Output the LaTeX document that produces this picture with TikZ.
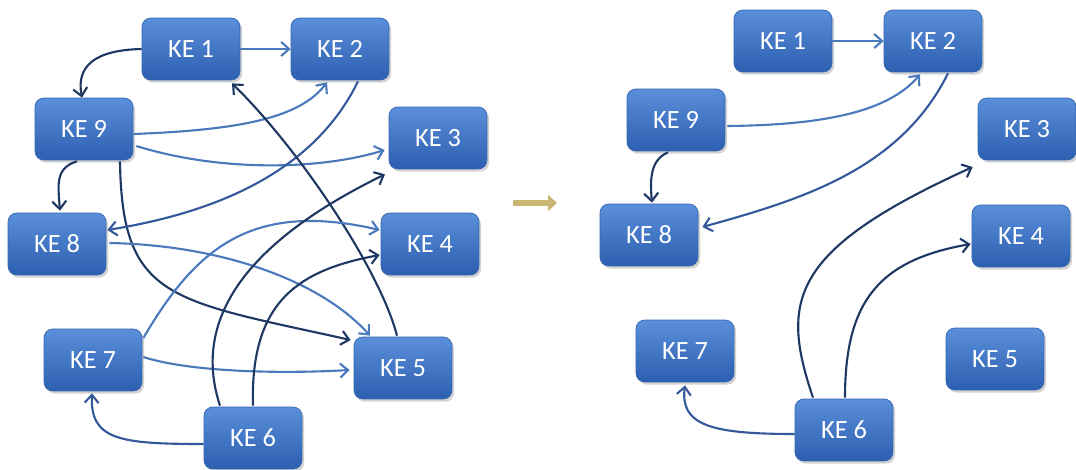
\documentclass[tikz,border=0pt]{standalone}
\usepackage{fontspec}
\setmainfont{Carlito}
\usetikzlibrary{arrows.meta,shadows,calc}
\definecolor{boxtop}{HTML}{5A8FDA}
\definecolor{boxbot}{HTML}{2C5FB0}
\definecolor{boxline}{HTML}{3565B0}
\definecolor{lightln}{HTML}{4A79BC}
\definecolor{darkln}{HTML}{1F3763}
\definecolor{medln}{HTML}{34599A}
\definecolor{gold}{HTML}{C9B873}
\tikzset{
  kebox/.style={rectangle, rounded corners=5pt, minimum width=1.96cm, minimum height=1.24cm,
    top color=boxtop, bottom color=boxbot, draw=boxline, line width=0.4pt,
    text=white, font=\fontsize{15}{17}\selectfont,
    drop shadow={opacity=0.35, shadow xshift=1.2pt, shadow yshift=-1.5pt}},
  conn/.style={line width=1.2pt, -{Straight Barb[length=4.5pt,width=8pt,line width=1.2pt]}},
  lt/.style={conn, draw=lightln},
  dk/.style={conn, draw=darkln},
  md/.style={conn, draw=medln},
}
\begin{document}
\begin{tikzpicture}[x=0.02cm,y=-0.02cm]
\useasboundingbox[fill=white] (0,0) rectangle (1076,470);
% left diagram
\node[kebox] (l1) at (191,49) {KE 1};
\node[kebox] (l2) at (340,49) {KE 2};
\node[kebox] (l9) at (84,129) {KE 9};
\node[kebox] (l3) at (438,138) {KE 3};
\node[kebox] (l8) at (57,244) {KE 8};
\node[kebox] (l4) at (430,244) {KE 4};
\node[kebox] (l7) at (93,360) {KE 7};
\node[kebox] (l5) at (403,368) {KE 5};
\node[kebox] (l6) at (253,438) {KE 6};
% right diagram
\node[kebox] (r1) at (783,41) {KE 1};
\node[kebox] (r2) at (933,41) {KE 2};
\node[kebox] (r9) at (676,120) {KE 9};
\node[kebox] (r3) at (1027,129) {KE 3};
\node[kebox] (r8) at (649,235) {KE 8};
\node[kebox] (r4) at (1021,236) {KE 4};
\node[kebox] (r7) at (685,351) {KE 7};
\node[kebox] (r5) at (995,359) {KE 5};
\node[kebox] (r6) at (844,430) {KE 6};

% left connectors
\draw[lt] (l1.east) -- (l2.west);
\draw[dk] (l1.west) .. controls (95,50) and (76,66) .. ($(l9.north)+(-2,0)$);
\draw[lt] ($(l9.east)+(0,5)$) .. controls (240,130) and (300,118) .. ($(l2.south)+(-13,2)$);
\draw[lt] ($(l9.east)+(3,17)$) .. controls (220,172) and (320,170) .. ($(l3.west)+(-4,12)$);
\draw[dk] ($(l9.south)+(-7,1)$) .. controls (55,168) and (58,185) .. ($(l8.north)+(3,-2)$);
\draw[dk] ($(l9.south)+(36,1)$) .. controls (122,300) and (170,300) .. ($(l5.west)+(-3,-28)$);
\draw[md] ($(l2.south)+(18,1)$) .. controls (310,180) and (200,215) .. ($(l8.east)+(1,-14)$);
\draw[lt] ($(l8.east)+(3,-1)$) .. controls (220,245) and (320,280) .. ($(l5.north)+(-33,-1)$);
\draw[dk] ($(l5.north)+(-6,-1)$) .. controls (380,270) and (300,150) .. ($(l1.south)+(41,3)$);
\draw[lt] ($(l7.east)+(1,-22)$) .. controls (195,250) and (250,200) .. ($(l4.west)+(-1,-14)$);
\draw[lt] ($(l7.east)+(1,-3)$) .. controls (190,372) and (280,374) .. ($(l5.west)+(-4,2)$);
\draw[md] ($(l6.west)+(0,6)$) .. controls (120,444) and (90,440) .. ($(l7.south)+(-1,2)$);
\draw[dk] ($(l6.north)+(-33,-1)$) .. controls (195,330) and (230,250) .. ($(l3.south)+(-53,5)$);
\draw[dk] ($(l6.north)+(0,-1)$) .. controls (250,300) and (300,270) .. ($(l4.west)+(-1,11)$);

% transition arrow
\draw[line width=3.2pt, gold, -{Triangle[length=5pt,width=9pt]}] (513,203) -- (557,203);

% right connectors
\draw[lt] (r1.east) -- (r2.west);
\draw[lt] ($(r9.east)+(2,6)$) .. controls (830,125) and (890,110) .. ($(r2.south)+(-13,2)$);
\draw[dk] ($(r9.south)+(-8,1)$) .. controls (650,160) and (650,180) .. ($(r8.north)+(3,-1)$);
\draw[md] ($(r2.south)+(15,1)$) .. controls (900,170) and (800,200) .. ($(r8.east)+(4,-8)$);
\draw[dk] ($(r6.north)+(-31,-1)$) .. controls (780,300) and (790,250) .. ($(r3.west)+(-5,38)$);
\draw[dk] ($(r6.north)+(1,-1)$) .. controls (845,300) and (880,260) .. ($(r4.west)+(-1,8)$);
\draw[md] ($(r6.west)+(0,4)$) .. controls (710,434) and (680,425) .. ($(r7.south)+(0,3)$);
\end{tikzpicture}
\end{document}
